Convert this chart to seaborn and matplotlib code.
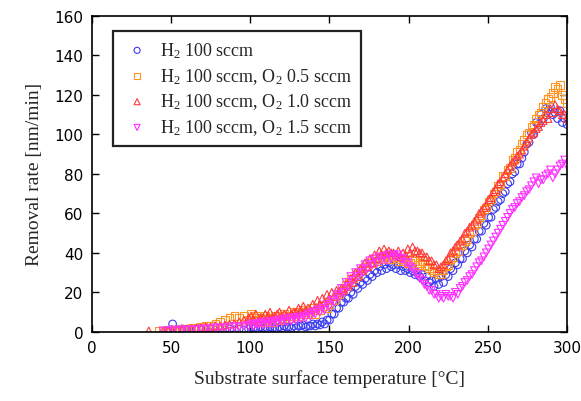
import numpy as np
import pandas as pd
import matplotlib
matplotlib.use("Agg")
import matplotlib.pyplot as plt
import seaborn as sns

nan = np.nan

# temperature grid (deg C)
temps = [36, 39, 42, 45, 48, 51, 54, 57, 60, 63, 66, 69, 72, 75, 78, 81, 84, 87,
         90, 93, 96, 99, 102, 105, 108, 111, 114, 117, 120, 123, 126, 129, 132,
         135, 138, 141, 144, 147, 150, 153, 156, 159, 162, 165, 168, 171, 174,
         177, 180, 183, 186, 189, 192, 195, 198, 201, 204, 207, 210, 213, 216,
         219, 222, 225, 228, 231, 234, 237, 240, 243, 246, 249, 252, 255, 258,
         261, 264, 267, 270, 273, 276, 279, 282, 285, 288, 291, 294, 297, 300]

# removal rate [nm/min], lower side of each band
h2_only = [nan, nan, nan, nan, 0.5, 4, 1, 1.5, 1, 1, 1.5, 1, 1, 1.5, 1, 1.5, 1, 1.5,
           1, 1.5, 1, 1.5, 2, 1.5, 2, 1.5, 2, 1.5, 2, 2.5, 2, 2, 3,
           2.5, 3, 3, 3.5, 4, 6, 9, 12, 15, 17, 19, 22, 24, 26,
           28, 30, 31, 32, 33, 32, 31, 31, 30, 29, 28, 26, 25, 23,
           24, 25, 28, 31, 34, 37, 40, 43, 47, 51, 54, 58, 63, 67,
           71, 76, 81, 85, 91, 96, 100, 105, 108, 112, 110, 108, 106, 105]

o2_05 = [nan, nan, 0.5, 0.5, 1, 0.5, 1, 1.5, 1, 2, 2, 2.5, 3, 3, 4, 5, 6, 7,
         8, 7, 8, 6, 7, 6, 5, 6, 5, 6, 7, 8, 8, 9, 9,
         10, 10, 9, 11, 13, 14, 16, 19, 22, 25, 27, 29, 31, 33,
         35, 36, 37, 38, 38, 38, 37, 36, 35, 36, 35, 34, 32, 30,
         29, 31, 34, 38, 41, 44, 47, 51, 55, 59, 63, 67, 71, 75,
         79, 83, 88, 92, 97, 101, 105, 110, 114, 118, 121, 123, 120, 116]

o2_10 = [0.5, nan, nan, 0.5, 0.5, 1, 1, 1, 1.5, 1.5, 2, 2, 2.5, 2.5, 3, 3, 3.5, 4,
         4, 5, 6, 7, 6, 5, 7, 8, 7, 9, 8, 8, 9, 10, 11,
         11, 11, 12, 14, 15, 17, 18, 20, 21, 23, 25, 28, 31, 33,
         35, 37, 39, 40, 40, 39, 38, 39, 40, 41, 40, 38, 36, 34,
         32, 34, 37, 41, 44, 47, 51, 54, 57, 61, 64, 68, 72, 76,
         80, 84, 87, 90, 94, 98, 101, 104, 107, 108, 111, 113, 110, 108]

o2_15 = [nan, nan, nan, 0.5, 0.5, 1, 0.5, 1, 1, 1, 1, 1.5, 1.5, 1.5, 2, 2, 2, 2.5,
         2.5, 2.5, 3, 3, 3, 3.5, 3.5, 4, 4, 4.5, 5, 5, 5.5, 6, 6.5,
         7, 8, 9, 10, 11, 13, 15, 18, 20, 23, 26, 28, 30, 32,
         34, 35, 36, 36, 37, 38, 37, 35, 33, 30, 27, 24, 21, 19,
         17, 17, 18, 17, 19, 23, 26, 29, 33, 36, 40, 44, 48, 52,
         56, 60, 63, 66, 69, 72, 76, 75, 77, 80, 78, 82, 85, 84]

# second pass of readings (upper side of each band)
temps2 = [100.5, 103.5, 106.5, 109.5, 112.5, 115.5, 118.5, 121.5, 124.5, 127.5,
          130.5, 133.5, 136.5, 139.5, 142.5, 145.5, 148.5, 151.5, 154.5, 157.5,
          160.5, 163.5, 166.5, 169.5, 172.5, 175.5, 178.5, 181.5, 184.5, 187.5,
          190.5, 193.5, 196.5, 199.5, 202.5, 205.5, 208.5, 211.5, 214.5, 217.5,
          220.5, 223.5, 226.5, 229.5, 232.5, 235.5, 238.5, 241.5, 244.5, 247.5,
          250.5, 253.5, 256.5, 259.5, 262.5, 265.5, 268.5, 271.5, 274.5, 277.5,
          280.5, 283.5, 286.5, 289.5, 292.5, 295.5, 298.5]

h2_only_b = [2.5, 2, 2.5, 2, 2.5, 2, 2.5, 3, 2.5, 3,
             3, 3.5, 3, 4, 4, 5, 6, 9, 12, 15,
             17, 20, 23, 25, 27, 29, 31, 33, 34, 35,
             34, 34, 33, 32, 31, 30, 29, 28, 26, 27,
             28, 29, 32, 35, 37, 41, 44, 47, 51, 55,
             58, 62, 66, 70, 75, 80, 85, 88, 95, 101,
             106, 110, 113, 114, 111, 112, 108]

o2_05_b = [9, 8, 7, 8, 7, 8, 6, 9, 7, 10,
           8, 11, 9, 12, 11, 13, 12, 16, 18, 21,
           24, 27, 29, 31, 33, 35, 37, 38, 39, 37,
           39, 36, 37, 35, 37, 34, 36, 33, 31, 31,
           29, 33, 37, 40, 44, 46, 50, 54, 58, 62,
           66, 70, 74, 79, 82, 87, 91, 95, 100, 104,
           108, 111, 116, 119, 124, 125, 118]

o2_10_b = [8, 9, 7, 9, 10, 8, 10, 9, 11, 10,
           12, 13, 12, 14, 16, 17, 19, 20, 21, 22,
           24, 27, 30, 32, 35, 37, 39, 41, 42, 41,
           40, 41, 40, 42, 43, 41, 40, 38, 36, 34,
           33, 36, 40, 43, 46, 50, 53, 56, 60, 63,
           67, 71, 75, 78, 82, 86, 89, 92, 96, 100,
           103, 106, 110, 113, 115, 112, 110]

o2_15_b = [4, 4, 4.5, 5, 5, 5.5, 6, 6.5, 7, 7,
           7.5, 8, 9, 10, 11, 12, 14, 16, 19, 22,
           25, 28, 30, 32, 34, 36, 37, 38, 38, 39,
           39, 39, 37, 35, 32, 29, 26, 23, 21, 19,
           18, 19, 18, 20, 22, 25, 28, 31, 35, 38,
           42, 46, 50, 54, 58, 62, 65, 68, 71, 74,
           78, 77, 79, 82, 80, 84, 87]

labels = [r"H$_\mathrm{2}$ 100 sccm",
          r"H$_\mathrm{2}$ 100 sccm, O$_\mathrm{2}$ 0.5 sccm",
          r"H$_\mathrm{2}$ 100 sccm, O$_\mathrm{2}$ 1.0 sccm",
          r"H$_\mathrm{2}$ 100 sccm, O$_\mathrm{2}$ 1.5 sccm"]
colors = ["#3c3cf0", "#ff9422", "#ff3a3a", "#ff30ff"]
markers = ["o", "s", "^", "v"]

sns.set_style("ticks")
plt.rcParams["font.family"] = ["DejaVu Sans"]
plt.rcParams["mathtext.fontset"] = "custom"
plt.rcParams["mathtext.rm"] = "Liberation Serif"
plt.rcParams["mathtext.it"] = "Liberation Serif:italic"

fig = plt.figure(figsize=(5.81, 4.02), dpi=100)
ax = fig.add_axes([0.158, 0.172, 0.818, 0.786])

series_a = [h2_only, o2_05, o2_10, o2_15]
series_b = [h2_only_b, o2_05_b, o2_10_b, o2_15_b]
for va, vb, lab, c, m in zip(series_a, series_b, labels, colors, markers):
    df = pd.concat([
        pd.DataFrame({"T": temps, "rate": va}),
        pd.DataFrame({"T": temps2, "rate": vb}),
    ]).dropna().sort_values("T")
    sns.scatterplot(data=df, x="T", y="rate", ax=ax, marker=m, s=30,
                    facecolor="none", edgecolor=c, linewidth=0.8, label=lab)

ax.set_xlim(0, 300)
ax.set_ylim(0, 160)
ax.set_xticks([0, 50, 100, 150, 200, 250, 300])
ax.set_yticks(range(0, 161, 20))
ax.tick_params(direction="in", length=5, width=1, top=True, right=True,
               labelsize=11, colors="black", pad=6)
for sp in ax.spines.values():
    sp.set_linewidth(1.2)
    sp.set_color("black")

ax.set_xlabel("Substrate surface temperature [°C]", family="Liberation Serif",
              fontsize=14, labelpad=10)
ax.set_ylabel("Removal rate [nm/min]", family="Liberation Serif",
              fontsize=14, labelpad=8)

leg = ax.legend(loc="upper left", bbox_to_anchor=(0.044, 0.952),
                borderaxespad=0,
                prop={"family": "Liberation Serif", "size": 13},
                frameon=True, fancybox=False, edgecolor="#222222",
                framealpha=1, handletextpad=0.42, handlelength=1.7,
                borderpad=0.5, labelspacing=0.33, markerscale=0.8)
leg.get_frame().set_linewidth(1.6)

fig.savefig("out.png", dpi=100)
